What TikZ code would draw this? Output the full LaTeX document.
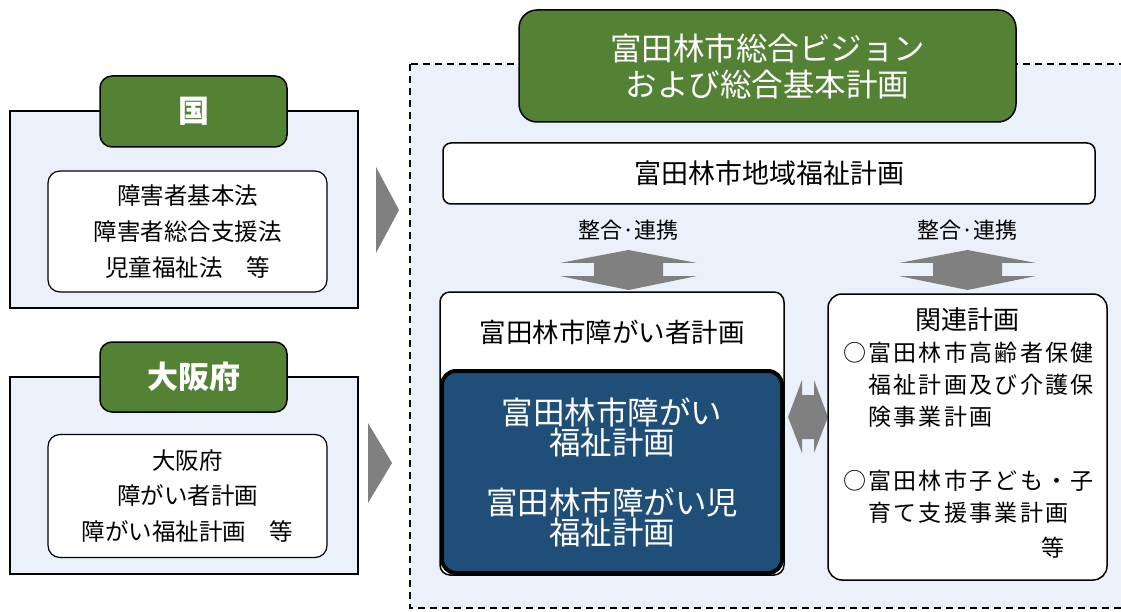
\documentclass[tikz,border=0pt]{standalone}
\usepackage{fontspec}
\setmainfont{Noto Sans CJK JP}
\newfontfamily\jpls[LetterSpace=10]{Noto Sans CJK JP}
\definecolor{grn}{HTML}{548235}
\definecolor{lblue}{HTML}{EAF1FA}
\definecolor{dblue}{HTML}{1F4E79}
\definecolor{agray}{HTML}{808080}
\begin{document}
\begin{tikzpicture}[x=1pt,y=-1pt,
  every node/.style={inner sep=0pt, outer sep=0pt},
  outerbox/.style={draw=black, line width=1.5pt, fill=lblue, rectangle},
  greenlabel/.style={draw=black, line width=1.5pt, fill=grn, rounded corners=12pt, text=white},
  whitebox/.style={draw=black, line width=1.2pt, fill=white, rounded corners=12pt},
  plainbox/.style={draw=black, line width=1.5pt, fill=white, rounded corners=10pt},
  bluebox/.style={draw=black, line width=4pt, fill=dblue, rounded corners=14pt},
  txt/.style={align=center, font=\fontsize{23.5}{36}\selectfont},
  blockarrow/.style={fill=agray, draw=none},
  frame/.style={draw=black, line width=1.3pt, dash pattern=on 7pt off 5pt, fill=lblue}
]
\useasboundingbox (0,0) rectangle (1121,612);
\clip (0,0) rectangle (1121,612);
\fill[white] (0,0) rectangle (1121,612);

% dashed frame
\draw[frame] (410,64) rectangle (1160,608);

% ---- left: 国
\node[outerbox, minimum width=348pt, minimum height=197pt] (kuniout) at (184,209.5) {};
\node[whitebox, minimum width=279pt, minimum height=121pt,
      txt] (kuniin) at (187.5,231.5) {障害者基本法\\障害者総合支援法\\児童福祉法　等};
\node[greenlabel, minimum width=187pt, minimum height=71pt,
      font=\bfseries\fontsize{31}{34}\selectfont] (kuni) at (193.5,111.5) {国};

% ---- left: 大阪府
\node[outerbox, minimum width=348pt, minimum height=197pt] (osakaout) at (184,475.5) {};
\node[whitebox, minimum width=279pt, minimum height=123pt,
      align=center, font=\fontsize{23.5}{35.5}\selectfont] (osakain) at (187.5,496) {大阪府\\障がい者計画\\障がい福祉計画　等};
\node[greenlabel, minimum width=187pt, minimum height=70pt,
      font=\bfseries\fontsize{31}{34}\selectfont] (osaka) at (193.5,377) {大阪府};

% ---- right-pointing triangles
\fill[blockarrow] (376,167) -- (399,210) -- (376,253) -- cycle;
\fill[blockarrow] (368,423) -- (392,463) -- (368,503) -- cycle;

% ---- top green title
\node[greenlabel, rounded corners=18pt, minimum width=497pt, minimum height=112pt,
      align=center, font=\fontsize{31.5}{36}\selectfont] (vision) at (767.5,66) {富田林市総合ビジョン\\および総合基本計画};

% ---- 地域福祉計画
\node[draw=black, line width=1.5pt, fill=white, rounded corners=8pt,
      minimum width=652pt, minimum height=61pt,
      font=\fontsize{27}{30}\selectfont] (chiiki) at (769,173.5) {富田林市地域福祉計画};

% ---- labels
\node[font=\fontsize{22}{26}\selectfont] (lab1) at (628.5,230) {整合·連携};
\node[font=\fontsize{22}{26}\selectfont] (lab2) at (967.5,230) {整合·連携};

% ---- vertical double arrows
\fill[blockarrow] (628.5,250) -- (697,263) -- (663,263) -- (663,276) -- (697,276)
  -- (628.5,290) -- (560,276) -- (594,276) -- (594,263) -- (560,263) -- cycle;
\fill[blockarrow] (967.5,250) -- (1036,263) -- (1002,263) -- (1002,276) -- (1036,276)
  -- (967.5,290) -- (899,276) -- (933,276) -- (933,263) -- (899,263) -- cycle;

% ---- 障がい者計画 box and blue box
\node[plainbox, minimum width=344pt, minimum height=283pt] (shogai) at (612,433.5) {};
\node[font=\fontsize{26.5}{30}\selectfont] (shogaitxt) at (612,332) {富田林市障がい者計画};
\node[bluebox, minimum width=340pt, minimum height=202pt] (blue) at (612,472) {};
\node[align=center, text=white, font=\fontsize{31.5}{30}\selectfont] (blue1) at (612,427) {富田林市障がい\\福祉計画};
\node[align=center, text=white, font=\fontsize{31.5}{30}\selectfont] (blue2) at (612,517) {富田林市障がい児\\福祉計画};

% ---- horizontal double arrow
\fill[blockarrow] (788,417) -- (802,380) -- (802,395) -- (814,395) -- (814,380)
  -- (828,417) -- (814,453) -- (814,439) -- (802,439) -- (802,453) -- cycle;

% ---- 関連計画
\node[plainbox, rounded corners=14pt, minimum width=279pt, minimum height=286pt] (kanren) at (967.5,437) {};
\node[font=\fontsize{26}{30}\selectfont] (kanrenttl) at (967,320) {関連計画};
\node[anchor=north west, align=left, font=\jpls\fontsize{23}{32}\selectfont] (kanrenitems) at (843,342)
  {○富田林市高齢者保健\\　福祉計画及び介護保\\　険事業計画\\\mbox{}\\○富田林市子ども・子\\　育て支援事業計画};
\node[font=\fontsize{23}{26}\selectfont] (tou) at (1053,548) {等};
\end{tikzpicture}
\end{document}
